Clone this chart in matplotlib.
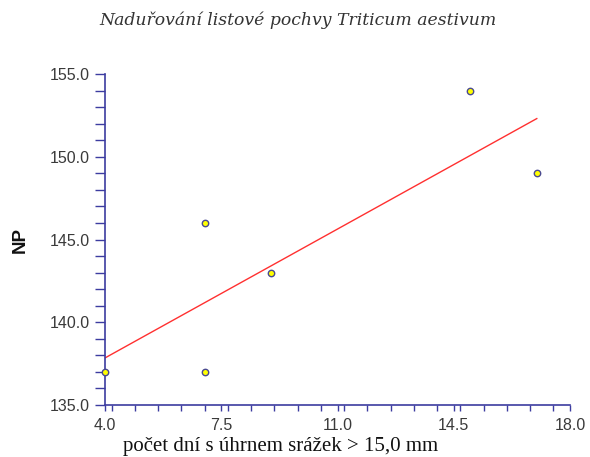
import numpy as np
import matplotlib
matplotlib.use("Agg")
import matplotlib.pyplot as plt
from matplotlib.ticker import MultipleLocator, FormatStrFormatter

# Observations: rainy days (> 15 mm) vs. NP
days = np.array([4, 7, 7, 9, 15, 17], dtype=float)
np_values = np.array([137, 146, 137, 143, 154, 149], dtype=float)

x_ticks = [4.0, 7.5, 11.0, 14.5, 18.0]
y_ticks = [135.0, 140.0, 145.0, 150.0, 155.0]

title = "Naduřování listové pochvy Triticum aestivum"
xlabel = "počet dní s úhrnem srážek > 15,0 mm"
ylabel = "NP"

axis_color = "#3c3ca0"
W, H = 590, 457
fig = plt.figure(figsize=(W / 100, H / 100), dpi=100)
ax = fig.add_axes([105 / W, 1 - 405 / H, (570 - 105) / W, (405 - 74) / H])

# least-squares regression line over the data range
slope, intercept = np.polyfit(days, np_values, 1)
xs = np.array([days.min(), days.max()])
ax.plot(xs, slope * xs + intercept, color="#ff3030", lw=1.0, zorder=2)

ax.plot(days, np_values, linestyle="none", marker="o", markersize=4.6,
        markerfacecolor="#ffff00", markeredgecolor="#4a4a90",
        markeredgewidth=1.0, zorder=3, clip_on=False)

ax.set_xlim(4, 18)
ax.set_ylim(135, 155)
ax.set_xticks(x_ticks)
ax.set_yticks(y_ticks)
ax.xaxis.set_minor_locator(MultipleLocator(0.7))
ax.yaxis.set_minor_locator(MultipleLocator(1.0))
ax.xaxis.set_major_formatter(FormatStrFormatter("%.1f"))
ax.yaxis.set_major_formatter(FormatStrFormatter("%.1f"))

for side in ("top", "right"):
    ax.spines[side].set_visible(False)
for side in ("left", "bottom"):
    ax.spines[side].set_color(axis_color)
    ax.spines[side].set_linewidth(1.2)

ax.tick_params(axis="both", which="both", color=axis_color, width=1.0,
               direction="out", labelcolor="#3a3a3a",
               labelsize=11.5)
ax.tick_params(axis="y", which="both", length=7, pad=4)
ax.tick_params(axis="x", which="both", length=4, pad=5)
for lbl in ax.get_xticklabels() + ax.get_yticklabels():
    lbl.set_fontfamily("Liberation Sans")

fig.text(298 / W, 1 - 20 / H, title, ha="center", va="center",
         fontsize=12.4, fontstyle="italic", family="DejaVu Serif",
         color="#333333")
fig.text(123 / W, 1 / H, xlabel, ha="left", va="bottom",
         fontsize=15, family="Liberation Serif", color="#111111")
fig.text(20 / W, 1 - 240 / H, ylabel, ha="center", va="center",
         rotation=90, fontsize=13.5, fontweight="bold",
         family="Liberation Sans", color="#111111")

fig.savefig("out.png", dpi=100)
